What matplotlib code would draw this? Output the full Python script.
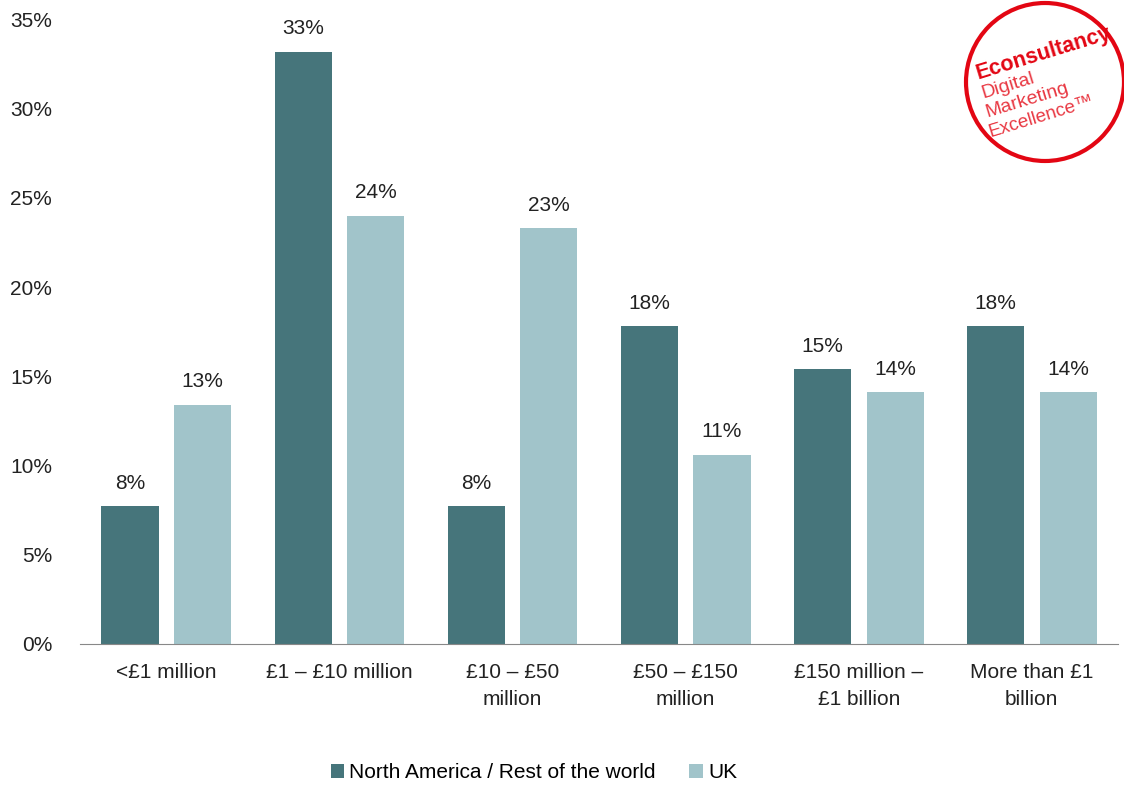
import matplotlib
matplotlib.use("Agg")
import matplotlib.pyplot as plt
import numpy as np
from matplotlib.patches import Circle

plt.rcParams['font.family'] = ['Liberation Sans', 'DejaVu Sans']

# data
categories = ["<£1 million", "£1 – £10 million", "£10 – £50\nmillion",
              "£50 – £150\nmillion", "£150 million –\n£1 billion", "More than £1\nbillion"]
north_america = [7.7, 33.2, 7.7, 17.8, 15.4, 17.8]
uk = [13.4, 24.0, 23.3, 10.6, 14.1, 14.1]
na_labels = ["8%", "33%", "8%", "18%", "15%", "18%"]
uk_labels = ["13%", "24%", "23%", "11%", "14%", "14%"]

dark = "#46757b"
light = "#a1c4ca"

fig = plt.figure(figsize=(11.24, 7.87), dpi=100)
ax = fig.add_axes([0.071, 0.182, 0.924, 0.793])

x = np.arange(len(categories))
w = 0.33
b1 = ax.bar(x - 0.21, north_america, w, color=dark, label="North America / Rest of the world")
b2 = ax.bar(x + 0.21, uk, w, color=light, label="UK")

for bars, labs in ((b1, na_labels), (b2, uk_labels)):
    for r, t in zip(bars, labs):
        ax.text(r.get_x() + r.get_width() / 2, r.get_height() + 0.75, t,
                ha="center", va="bottom", fontsize=15, color="#222222")

ax.set_ylim(0, 35)
ax.set_xlim(-0.5, len(categories) - 0.5)
ax.set_yticks(range(0, 36, 5))
ax.set_yticklabels([f"{v}%" for v in range(0, 36, 5)])
ax.set_xticks(x)
ax.set_xticklabels(categories, linespacing=1.55)
ax.tick_params(axis="both", length=0, labelsize=15, colors="#222222")
ax.tick_params(axis="y", pad=20)
ax.tick_params(axis="x", pad=14)
for s in ("top", "right", "left"):
    ax.spines[s].set_visible(False)
ax.spines["bottom"].set_color("#888888")

fig.legend(handles=[b1, b2], loc="center", bbox_to_anchor=(0.475, 0.018),
           ncol=2, frameon=False, fontsize=15, handlelength=0.65, handleheight=0.65,
           handletextpad=0.25, columnspacing=1.6)

# logo
red = "#e30613"
fig.patches.append(Circle((1045, 787 - 82), 79, transform=None, fill=False,
                          edgecolor=red, linewidth=3, figure=fig))
W, H = 1124, 787
logo_lines = [("Econsultancy", 978, 79, 15.5, "bold", 1.0),
              ("Digital", 983, 98, 14, "normal", 0.8),
              ("Marketing", 987, 117, 14, "normal", 0.8),
              ("Excellence™", 991, 137, 13.5, "normal", 0.8)]
for txt, px, py, fs, fw, a in logo_lines:
    fig.text(px / W, 1 - py / H, txt, rotation=17, rotation_mode="anchor",
             ha="left", va="baseline", fontsize=fs, fontweight=fw, color=red, alpha=a)

fig.savefig("out.png", dpi=100)
